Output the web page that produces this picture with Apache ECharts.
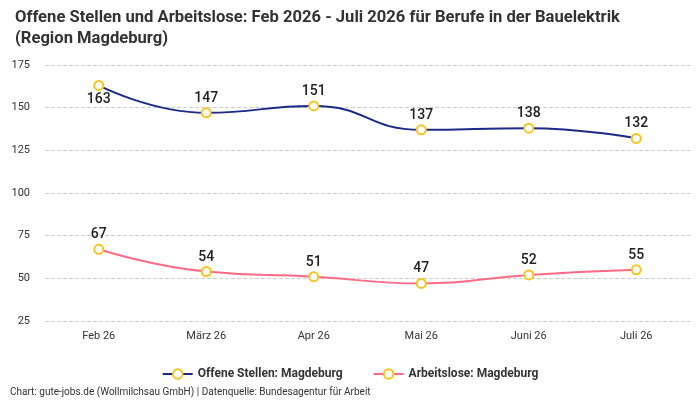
<!DOCTYPE html>
<html><head><meta charset="utf-8">
<script src="https://cdn.jsdelivr.net/npm/echarts@6/dist/echarts.min.js"></script>
<style>html,body{margin:0;padding:0;background:#fff}#c{width:700px;height:400px}</style>
</head><body><div id="c"></div>
<script>
const categories = ["Feb 26","März 26","Apr 26","Mai 26","Juni 26","Juli 26"];
const offeneStellen = [163,147,151,137,138,132];
const arbeitslose = [67,54,51,47,52,55];
const yTicks = [25,50,75,100,125,150,175];

const font = "Roboto";
const chart = echarts.init(document.getElementById('c'));
const labelStyle = {show:true, position:'top', fontFamily:font, fontSize:14, fontWeight:500, color:'#222', distance:2};
chart.setOption({
  animation:false,
  title:{text:"Offene Stellen und Arbeitslose: Feb 2026 - Juli 2026 für Berufe in der Bauelektrik\n(Region Magdeburg)",
    left:10, top:2, textStyle:{fontFamily:font, fontSize:16.6, fontWeight:'bold', color:'#333', lineHeight:21}},
  graphic:[{type:'text', left:10, top:387, style:{text:"Chart: gute-jobs.de (Wollmilchsau GmbH) | Datenquelle: Bundesagentur für Arbeit", font:"10px "+font, fill:'#333'}}],
  legend:{top:363, left:'center', itemGap:30, itemWidth:30, itemHeight:12,
    textStyle:{fontFamily:font, fontSize:12, fontWeight:'bold', color:'#333'}},
  grid:{left:45, right:10, top:65, bottom:79},
  xAxis:{type:'category', data:categories, boundaryGap:true,
    axisLine:{show:false}, axisTick:{show:false},
    axisLabel:{fontFamily:font, fontSize:11, color:'#333', margin:10}},
  yAxis:{type:'value', min:yTicks[0], max:yTicks[yTicks.length-1], interval:25,
    axisLine:{show:false}, axisTick:{show:false},
    axisLabel:{fontFamily:font, fontSize:11, color:'#333', margin:15},
    splitLine:{lineStyle:{type:'dashed', color:'#ccc'}}},
  series:[
    {name:"Offene Stellen: Magdeburg", type:'line', smooth:true, data:offeneStellen.map((v,i)=> i===0 ? {value:v, label:{position:'bottom'}} : v),
      lineStyle:{color:'#1c2a8a', width:2}, itemStyle:{color:'#fff', borderColor:'#f7c51e', borderWidth:2},
      symbol:'circle', symbolSize:9, label:labelStyle, color:'#1c2a8a'},
    {name:"Arbeitslose: Magdeburg", type:'line', smooth:true, data:arbeitslose,
      lineStyle:{color:'#ff6b86', width:2}, itemStyle:{color:'#fff', borderColor:'#f7c51e', borderWidth:2},
      symbol:'circle', symbolSize:9, label:labelStyle, color:'#ff6b86'}
  ]
});
</script></body></html>
